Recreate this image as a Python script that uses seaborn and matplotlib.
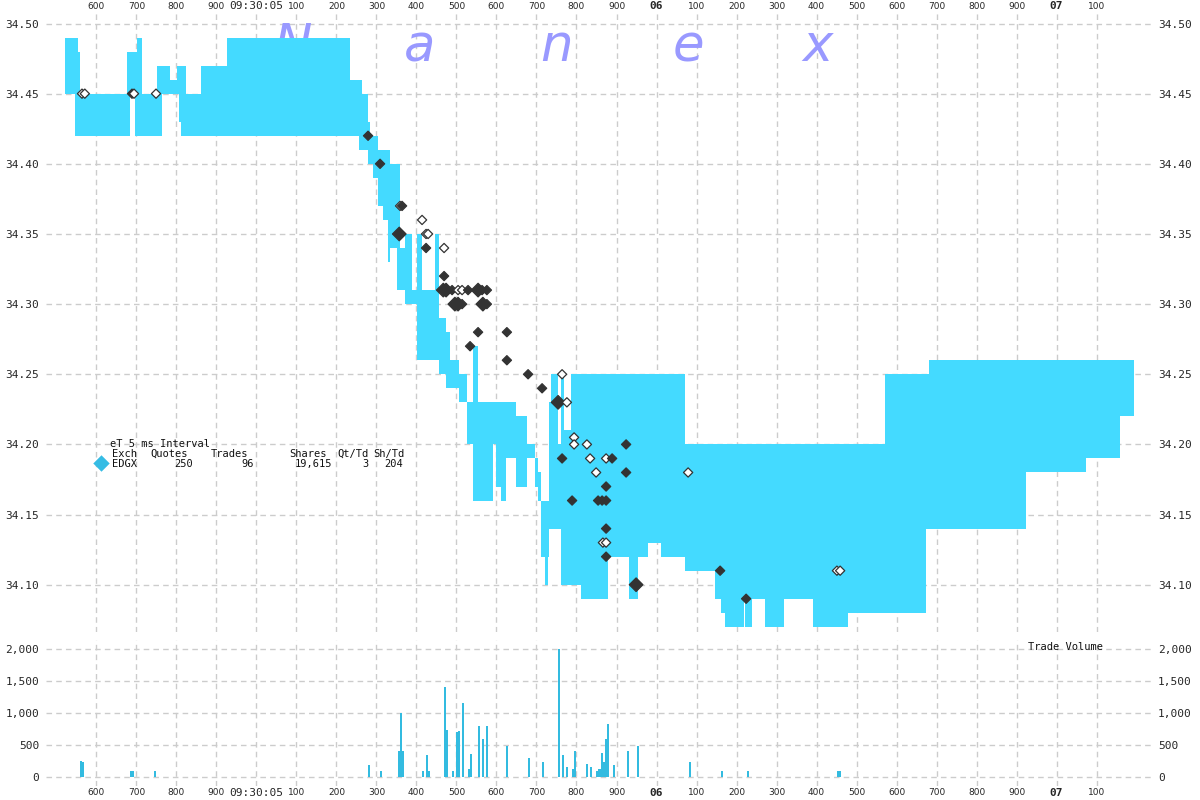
import numpy as np
import pandas as pd
import matplotlib
matplotlib.use("Agg")
import matplotlib.pyplot as plt
import seaborn as sns

# ---------------- data (time = ms after 09:30:04.000) ----------------
# EDGX quote band: each row starts a step (bid / ask); NaN = no quote
quote_t = [522, 547, 554, 559, 677, 684, 697, 702, 714, 752, 764, 784, 802, 807, 811,
           824, 862, 927, 1234, 1256, 1264, 1279, 1284, 1292, 1304, 1317, 1329, 1334,
           1352, 1359, 1372, 1389, 1402, 1414, 1447, 1457, 1474, 1484, 1507, 1527, 1542,
           1554, 1592, 1599, 1612, 1624, 1649, 1677, 1697, 1704, 1712, 1722, 1729, 1732,
           1737, 1754, 1762, 1769, 1787, 1812, 1879, 1932, 1954, 1979, 2012, 2072, 2147,
           2162, 2172, 2219, 2222, 2239, 2272, 2319, 2392, 2479, 2572, 2674, 2682, 2924,
           3074, 3159]
quote_end = 3194
quote_bid = [34.45, 34.42, 34.42, 34.42, 34.42, 34.45, 34.42, 34.42, 34.42, 34.42, 34.45,
             34.45, 34.45, 34.43, 34.42, 34.42, 34.42, 34.42, 34.42, 34.41, 34.41, 34.40,
             34.40, 34.39, 34.37, 34.36, 34.33, 34.34, 34.31, 34.31, 34.30, 34.30, 34.26,
             34.26, 34.26, 34.25, 34.24, 34.24, 34.23, 34.20, 34.16, 34.16, 34.20, 34.17,
             34.16, 34.19, 34.17, 34.19, 34.17, 34.16, 34.12, 34.10, 34.12, 34.14, 34.14,
             34.14, 34.10, 34.10, 34.10, 34.09, 34.12, 34.09, 34.12, 34.13, 34.12, 34.11,
             34.09, 34.08, 34.07, 34.093, 34.07, 34.09, 34.07, 34.09, 34.07, 34.08, 34.08,
             34.14, 34.14, 34.18, 34.19, 34.22]
quote_ask = [34.49, 34.49, 34.48, 34.45, 34.48, 34.48, 34.48, 34.49, 34.45, 34.47, 34.47,
             34.46, 34.47, 34.47, 34.47, 34.45, 34.47, 34.49, 34.46, 34.46, 34.45, 34.43,
             34.42, 34.42, 34.41, 34.41, 34.41, 34.40, 34.40, 34.34, 34.35, 34.31, 34.35,
             34.31, 34.35, 34.29, 34.28, 34.26, 34.25, 34.23, 34.27, 34.23, 34.23, 34.23,
             34.23, 34.23, 34.22, 34.20, 34.19, 34.18, 34.16, 34.16, 34.16, 34.23, 34.25,
             34.20, 34.25, 34.21, 34.25, 34.25, 34.25, 34.25, 34.25, 34.25, 34.25, 34.20,
             34.20, 34.20, 34.20, 34.20, 34.20, 34.20, 34.20, 34.20, 34.20, 34.20, 34.25,
             34.25, 34.26, 34.26, 34.26, 34.26]

# trades: time, price, kind (D = dark, W = white), large marker flag
trade_t = [564, 571, 689, 694, 749, 1279, 1309, 1357, 1359, 1364, 1414, 1424, 1429, 1424,
           1469, 1469, 1467, 1474, 1489, 1504, 1514, 1529, 1554, 1564, 1576, 1496, 1504,
           1514, 1566, 1576, 1554, 1626, 1534, 1626, 1679, 1714, 1754, 1764, 1776, 1794,
           1794, 1826, 1924, 1764, 1834, 1874, 1889, 1849, 1924, 2079, 1874, 1789, 1854,
           1864, 1874, 1874, 1866, 1874, 1874, 1949, 2159, 2224, 2451, 2459]
trade_p = [34.45, 34.45, 34.45, 34.45, 34.45, 34.42, 34.40, 34.35, 34.37, 34.37, 34.36,
           34.35, 34.35, 34.34, 34.34, 34.32, 34.31, 34.31, 34.31, 34.31, 34.31, 34.31,
           34.31, 34.31, 34.31, 34.30, 34.30, 34.30, 34.30, 34.30, 34.28, 34.28, 34.27,
           34.26, 34.25, 34.24, 34.23, 34.25, 34.23, 34.205, 34.20, 34.20, 34.20, 34.19,
           34.19, 34.19, 34.19, 34.18, 34.18, 34.18, 34.17, 34.16, 34.16, 34.16, 34.16,
           34.14, 34.13, 34.13, 34.12, 34.10, 34.11, 34.09, 34.11, 34.11]
trade_kind = ["W", "W", "D", "W", "W", "D", "D", "D", "W", "D", "W", "W", "W", "D", "W",
              "D", "D", "D", "D", "W", "W", "D", "D", "D", "D", "D", "D", "D", "D", "D",
              "D", "D", "D", "D", "D", "D", "D", "W", "W", "W", "W", "W", "D", "D", "W",
              "W", "D", "W", "D", "W", "D", "D", "D", "D", "D", "D", "W", "W", "D", "D",
              "D", "D", "W", "W"]
trade_big = [False, False, False, False, False, False, False, True, False, False, False,
             False, False, False, False, False, True, True, False, False, False, False,
             True, False, False, True, True, False, True, False, False, False, False,
             False, False, False, True, False, False, False, False, False, False, False,
             False, False, False, False, False, False, False, False, False, False, False,
             False, False, False, False, True, False, False, False, False]

# trade volume (shares per 5 ms interval)
vol_t = [564, 569, 689, 694, 749, 1281, 1311, 1356, 1361, 1366, 1416, 1426, 1431, 1471,
         1476, 1491, 1501, 1506, 1516, 1531, 1536, 1556, 1566, 1576, 1626, 1681, 1716,
         1756, 1766, 1776, 1791, 1796, 1826, 1836, 1851, 1856, 1861, 1866, 1871, 1876,
         1891, 1926, 1951, 2081, 2161, 2226, 2451, 2459]
vol_shares = [250, 235, 100, 100, 100, 195, 100, 410, 1000, 400, 100, 350, 100, 1400,
              740, 100, 700, 720, 1160, 130, 360, 800, 600, 800, 490, 300, 240, 2000,
              350, 150, 130, 400, 200, 160, 100, 130, 380, 240, 600, 830, 190, 400, 490,
              240, 100, 100, 100, 100]

price_ticks = [34.10, 34.15, 34.20, 34.25, 34.30, 34.35, 34.40, 34.45, 34.50]
vol_ticks = [0, 500, 1000, 1500, 2000]
time_ticks = list(range(600, 3101, 100))

legend_header = ["Exch", "Quotes", "Trades", "Shares", "Qt/Td", "Sh/Td"]
legend_values = ["EDGX", "250", "96", "19,615", "3", "204"]

# ---------------- styling ----------------
sns.set_theme(style="white")
plt.rcParams["font.family"] = ["DejaVu Sans"]
BAND = "#44DAFF"
BAR = "#33BBE0"
DARK = "#333333"
GRID = "#CCCCCC"
MONO = "DejaVu Sans Mono"

W, H = 1200, 800
fig = plt.figure(figsize=(12, 8), dpi=100, facecolor="white")

def px_axes(left, top, right, bottom):
    return fig.add_axes([left / W, 1 - bottom / H, (right - left) / W, (bottom - top) / H])

ax = px_axes(46, 13, 1151, 632)
axv = px_axes(46, 640, 1151, 786)

XLIM = (474, 3236)
for a in (ax, axv):
    a.set_facecolor("white")
    for s in a.spines.values():
        s.set_visible(False)
    a.set_xlim(*XLIM)
    a.set_xticks(time_ticks)
    a.grid(True, color=GRID, linestyle=(0, (4, 3)), linewidth=1)
    a.set_axisbelow(True)

ax.set_ylim(34.0663, 34.5075)
axv.set_ylim(-140, 2140)

# watermark (beneath the quote band)
for ch, xp in zip("Nanex", [293, 420, 556, 688, 818]):
    ax.text(xp / W, 1 - 61 / H, ch, ha="center", va="baseline", fontsize=37,
            style="italic", color="#9999FF", zorder=1.5, family="DejaVu Sans",
            transform=fig.transFigure)

# quote band
tt = np.array(quote_t + [quote_end], float)
bid = np.array(quote_bid, float)
ask = np.array(quote_ask, float)
valid = ~np.isnan(bid)
i, n = 0, len(bid)
while i < n:
    if not valid[i]:
        i += 1
        continue
    j = i
    while j < n and valid[j]:
        j += 1
    xs = tt[i:j + 1]
    lo = np.append(bid[i:j], bid[j - 1])
    hi = np.append(ask[i:j], ask[j - 1])
    ax.fill_between(xs, lo, hi, step="post", color=BAND, linewidth=0, zorder=2)
    i = j

# trades
trades = pd.DataFrame({"t": trade_t, "p": trade_p, "kind": trade_kind, "big": trade_big})
sns.scatterplot(data=trades, x="t", y="p", hue="kind", palette={"D": DARK, "W": "white"},
                size="big", sizes={False: 22, True: 48}, marker="D", edgecolor=DARK,
                linewidth=0.9, legend=False, ax=ax, zorder=4)

# volume
sns.histplot(x=vol_t, weights=vol_shares, binwidth=5, binrange=(400, 3300), color=BAR,
             alpha=1, linewidth=0, edgecolor=None, ax=axv, zorder=3)

# ticks
ax.set_yticks(price_ticks)
ax.set_yticklabels([f"{v:.2f}" for v in price_ticks])
axv.set_yticks(vol_ticks)
axv.set_yticklabels([f"{v:,}" for v in vol_ticks])
for a in (ax, axv):
    a.tick_params(axis="y", labelleft=True, labelright=True, length=0, pad=5,
                  labelsize=8)
    for lab in a.get_yticklabels():
        lab.set_family(MONO)
    a.set_xlabel("")
    a.set_ylabel("")

def tlabel(t):
    if t % 1000 == 0:
        return "09:30:05" if t == 1000 else f"{4 + t // 1000:02d}"
    return f"{t % 1000}"

for a, top in ((ax, True), (axv, False)):
    a.set_xticklabels([tlabel(t) for t in time_ticks])
    a.tick_params(axis="x", length=0, pad=1.5, labeltop=top, labelbottom=not top)
    for t, tick in zip(time_ticks, a.xaxis.get_major_ticks()):
        for lab in (tick.label1, tick.label2):
            if t == 1000:
                lab.set_fontsize(8)
                lab.set_family(MONO)
            elif t % 1000 == 0:
                lab.set_fontsize(8)
                lab.set_fontweight("bold")
                lab.set_family(MONO)
            else:
                lab.set_fontsize(6.5)
                lab.set_family("DejaVu Sans")

# legend block
fig.text(110 / W, 1 - 444 / H, "eT 5 ms Interval", ha="left", va="center",
         family=MONO, fontsize=7.5, color="#111111")
hdr_x = [112, 188, 248, 327, 369, 405]
val_x = [112, 193, 254, 332, 369, 403]
for k, (h, v) in enumerate(zip(legend_header, legend_values)):
    ha = "left" if k == 0 else "right"
    fig.text(hdr_x[k] / W, 1 - 454 / H, h, ha=ha, va="center", family=MONO,
             fontsize=7.5, color="#111111")
    fig.text(val_x[k] / W, 1 - 464 / H, v, ha=ha, va="center", family=MONO,
             fontsize=7.5, color="#111111")
ax.scatter([101 / W], [1 - 463 / H], marker="D", s=70, color="#36BCE4",
           transform=fig.transFigure, clip_on=False, zorder=5, linewidth=0)

fig.text(1103 / W, 1 - 647 / H, "Trade Volume", ha="right", va="center", family=MONO,
         fontsize=7.5, color="#111111")

fig.savefig("out.png", dpi=100, facecolor="white")
